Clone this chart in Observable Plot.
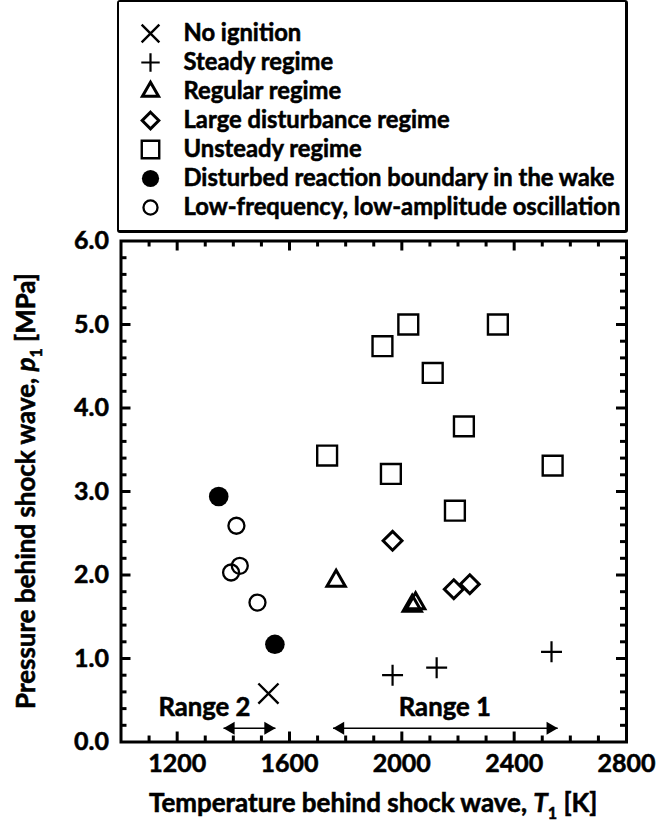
<!DOCTYPE html>
<html><head><meta charset="utf-8">
<script src="https://cdn.jsdelivr.net/npm/d3@7"></script>
<script src="https://cdn.jsdelivr.net/npm/@observablehq/plot@0.6"></script>
<style>
body{margin:0;background:#fff;font-family:Lato,sans-serif;}
#legend{margin-left:117px;width:511px;height:233px;box-sizing:border-box;border:2px solid #000;border-right-width:3px;border-bottom-width:3px;border-radius:3px;background:#fff;}
svg{display:block}
svg text{paint-order:stroke;stroke:#000;stroke-width:0.55px;}
</style></head><body>
<div id="legend"></div><div id="chart"></div>
<script>
// ---------- data ----------
const categories = [
  "No ignition",
  "Steady regime",
  "Regular regime",
  "Large disturbance regime",
  "Unsteady regime",
  "Disturbed reaction boundary in the wake",
  "Low-frequency, low-amplitude oscillation"
];
const noIgnitionT = [1525];
const noIgnitionP = [0.58];
const steadyT = [1967, 2124, 2533];
const steadyP = [0.80, 0.89, 1.08];
const regularT = [1766, 2037, 2049];
const regularP = [1.93, 1.63, 1.66];
const largeDistT = [1967, 2185, 2242];
const largeDistP = [2.41, 1.83, 1.89];
const unsteadyT = [1734, 1931, 2023, 2110, 2342, 2221, 1961, 2189, 2537];
const unsteadyP = [3.43, 4.74, 5.00, 4.42, 5.00, 3.78, 3.21, 2.77, 3.31];
const disturbedT = [1348, 1548];
const disturbedP = [2.94, 1.17];
const lowFreqT = [1411, 1423, 1392, 1486];
const lowFreqP = [2.59, 2.11, 2.03, 1.67];

const rangeNames = ["Range 2", "Range 1"];
const rangeFrom = [1365, 1755];
const rangeTo = [1550, 2555];
const rangeArrowP = [0.165, 0.165];
const rangeLabelT = [1297, 2153];
const rangeLabelP = [0.41, 0.41];

const xTickLabels = [1200, 1600, 2000, 2400, 2800];
const yTickLabels = [0, 1, 2, 3, 4, 5, 6];

// ---------- font fitting (match text widths of the reference) ----------
const ctx = document.createElement("canvas").getContext("2d");
function fitSize(str, target) {
  ctx.font = "bold 100px Lato";
  return 100 * target / ctx.measureText(str).width;
}
const legendFont = fitSize("Low-frequency, low-amplitude oscillation", 437);
const xTitleFont = fitSize("Temperature behind shock wave, T1 [K]", 456);
const yTitleFont = fitSize("Pressure behind shock wave, p1 [MPa]", 443);
const rangeFont = fitSize("Range 2", 92);

// ---------- styles ----------
const seriesData = [
  {T: noIgnitionT, P: noIgnitionP},
  {T: steadyT, P: steadyP},
  {T: regularT, P: regularP},
  {T: largeDistT, P: largeDistP},
  {T: unsteadyT, P: unsteadyP},
  {T: disturbedT, P: disturbedP},
  {T: lowFreqT, P: lowFreqP}
];
const styles = [
  {symbol: "times", fill: "none", stroke: "black", r: 9.2, sw: 2.4},
  {symbol: "plus", fill: "none", stroke: "black", r: 6.8, sw: 2.2},
  {symbol: "triangle", fill: "none", stroke: "black", r: 6.8, sw: 3},
  {symbol: "diamond2", fill: "none", stroke: "black", r: 8.5, sw: 3},
  {symbol: "square", fill: "none", stroke: "black", r: 11.2, sw: 2.4},
  {symbol: "circle", fill: "black", stroke: "none", r: 9.8, sw: 0},
  {symbol: "circle", fill: "none", stroke: "black", r: 8, sw: 2.3}
];

// ---------- legend ----------
const LW = 506, LH = 228;
const legendMarks = [];
categories.forEach((c, i) => {
  const s = styles[i];
  legendMarks.push(Plot.dot([c], {y: d => d, frameAnchor: "left", dx: 31, symbol: s.symbol,
    fill: s.fill, stroke: s.stroke, strokeWidth: s.sw, r: s.r * 0.88}));
});
legendMarks.push(Plot.text(categories, {y: d => d, text: d => d, frameAnchor: "left", dx: 64,
  textAnchor: "start", fontSize: legendFont, fontWeight: "bold", fill: "black"}));
const legend = Plot.plot({
  width: LW, height: LH, margin: 0,
  y: {type: "point", domain: categories, range: [30, 206], padding: 0, axis: null},
  style: {fontFamily: "Lato, sans-serif", background: "white"},
  marks: legendMarks
});
document.getElementById("legend").appendChild(legend);

// ---------- main chart ----------
const W = 669, H = 590, ML = 120.5, MR = 43, MT = 7.5, MB = 81.5;
const FW = W - ML - MR, FH = H - MT - MB;
const xMajor = [1200, 1600, 2000, 2400];
const xMinor = d3.range(11, 28).map(d => d * 100).filter(d => !xMajor.includes(d));
const yMajor = [1, 2, 3, 4, 5];
const yMinor = d3.range(1, 30).filter(d => d % 5 !== 0).map(d => d / 5);

const marks = [];
const tk = {stroke: "black", strokeWidth: 3};
marks.push(Plot.tickX(xMinor, {x: d => d, insetTop: FH - 6, ...tk}));
marks.push(Plot.tickX(xMajor, {x: d => d, insetTop: FH - 10, ...tk}));
marks.push(Plot.tickX(xMinor, {x: d => d, insetBottom: FH - 6, ...tk}));
marks.push(Plot.tickX(xMajor, {x: d => d, insetBottom: FH - 10, ...tk}));
marks.push(Plot.tickY(yMinor, {y: d => d, insetRight: FW - 6, ...tk}));
marks.push(Plot.tickY(yMajor, {y: d => d, insetRight: FW - 10, ...tk}));
marks.push(Plot.tickY(yMinor, {y: d => d, insetLeft: FW - 6, ...tk}));
marks.push(Plot.tickY(yMajor, {y: d => d, insetLeft: FW - 10, ...tk}));
marks.push(Plot.frame({stroke: "black", strokeWidth: 3}));
marks.push(Plot.axisX(xTickLabels, {tickSize: 0, tickPadding: 12, fontSize: 25, fontWeight: "bold", tickFormat: d => String(d), label: null}));
marks.push(Plot.axisY(yTickLabels, {tickSize: 0, tickPadding: 12, fontSize: 25, fontWeight: "bold", tickFormat: d => d.toFixed(1), label: null}));

// range arrows
const ranges = rangeNames.map((n, i) => ({name: n, from: rangeFrom[i], to: rangeTo[i], p: rangeArrowP[i], lt: rangeLabelT[i], lp: rangeLabelP[i]}));
marks.push(Plot.link(ranges, {x1: "from", x2: "to", y1: "p", y2: "p", stroke: "black", strokeWidth: 1.4}));
marks.push(Plot.dot(ranges, {x: "from", y: "p", symbol: "triangle", r: 4.8, rotate: -90, dx: 7.4, fill: "black", stroke: "none"}));
marks.push(Plot.dot(ranges, {x: "to", y: "p", symbol: "triangle", r: 4.8, rotate: 90, dx: -7.4, fill: "black", stroke: "none"}));
marks.push(Plot.text(ranges, {x: "lt", y: "lp", text: "name", fontSize: rangeFont, fontWeight: "bold", fill: "black"}));

// data points
categories.forEach((c, i) => {
  const s = styles[i];
  const rows = seriesData[i].T.map((t, j) => ({T: t, p: seriesData[i].P[j]}));
  marks.push(Plot.dot(rows, {x: "T", y: "p", symbol: s.symbol, fill: s.fill, stroke: s.stroke, strokeWidth: s.sw, r: s.r}));
});

const chart = Plot.plot({
  width: W, height: H, marginLeft: ML, marginRight: MR, marginTop: MT, marginBottom: MB,
  x: {domain: [1000, 2800]},
  y: {domain: [0, 6]},
  style: {fontFamily: "Lato, sans-serif", background: "white", color: "black", overflow: "visible"},
  marks
});
document.getElementById("chart").appendChild(chart);

// axis titles with italic symbols and subscripts
const svg = d3.select(chart);
const xt = svg.append("text").attr("x", ML + FW / 2).attr("y", 579)
  .attr("text-anchor", "middle").attr("font-size", xTitleFont).attr("font-weight", "bold")
  .attr("font-family", "Lato, sans-serif").attr("fill", "black");
xt.append("tspan").text("Temperature behind shock wave, ");
xt.append("tspan").attr("font-style", "italic").text("T");
xt.append("tspan").attr("font-size", xTitleFont * 0.62).attr("dy", 7).text("1");
xt.append("tspan").attr("dy", -7).text(" [K]");

const yt = svg.append("text").attr("transform", `translate(35,${MT + FH / 2}) rotate(-90)`)
  .attr("text-anchor", "middle").attr("font-size", yTitleFont).attr("font-weight", "bold")
  .attr("font-family", "Lato, sans-serif").attr("fill", "black");
yt.append("tspan").text("Pressure behind shock wave, ");
yt.append("tspan").attr("font-style", "italic").text("p");
yt.append("tspan").attr("font-size", yTitleFont * 0.62).attr("dy", 7).text("1");
yt.append("tspan").attr("dy", -7).text(" [MPa]");
</script>
</body></html>
